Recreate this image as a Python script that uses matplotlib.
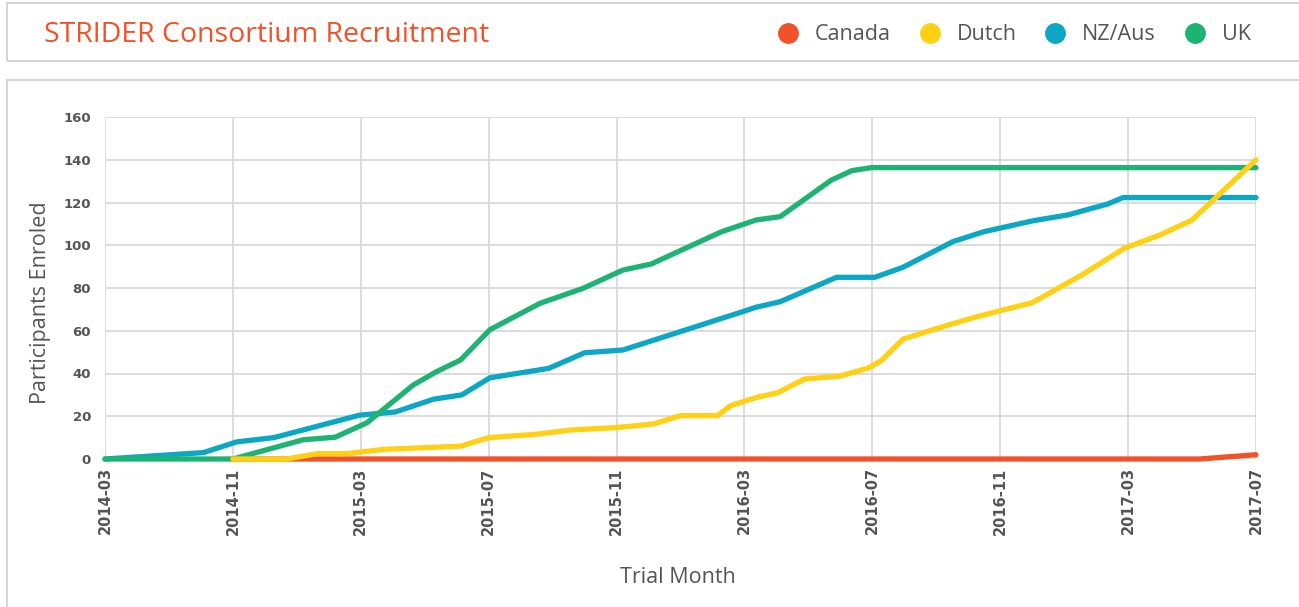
import matplotlib
matplotlib.use("Agg")
import matplotlib.pyplot as plt
from matplotlib.patches import Rectangle
from matplotlib.lines import Line2D

# tick labels along the (categorical) month axis, one per grid column
month_labels = ["2014-03", "2014-11", "2015-03", "2015-07", "2015-11",
                "2016-03", "2016-07", "2016-11", "2017-03", "2017-07"]

# positions are in units of tick spacing (0 = 2014-03 ... 9 = 2017-07)
canada_x = [1.0, 8.56, 9.0]
canada_y = [0, 0, 2]

dutch_x = [1.0, 1.42, 1.66, 1.89, 2.18, 2.78, 3.0, 3.36, 3.65, 4.0, 4.29,
           4.50, 4.79, 4.89, 5.10, 5.26, 5.47, 5.75, 5.97, 6.07, 6.24, 6.55,
           6.79, 7.0, 7.25, 7.65, 7.97, 8.25, 8.50, 9.0]
dutch_y = [0, 0, 2.5, 2.5, 4.5, 6, 10, 11.5, 13.6, 14.7, 16.4,
           20.3, 20.3, 24.9, 28.9, 31, 37.4, 38.8, 42.6, 46, 56.1, 61.9,
           66.1, 69.4, 73.1, 86.5, 98.6, 104.8, 111.8, 140]

nzaus_x = [0, 0.77, 1.03, 1.32, 1.99, 2.27, 2.57, 2.79, 3.01, 3.47, 3.75,
           4.05, 4.99, 5.09, 5.28, 5.72, 6.02, 6.24, 6.63, 6.87, 7.26, 7.53,
           7.84, 7.96, 9.0]
nzaus_y = [0, 3, 8, 10, 20.5, 22, 28, 30, 38, 42.4, 49.7,
           51, 69, 71, 73.6, 85, 85, 89.7, 101.7, 106.3, 111.5, 114.2,
           119.3, 122.3, 122.3]

uk_x = [0, 1.0, 1.55, 1.80, 2.05, 2.41, 2.59, 2.78, 3.01, 3.40, 3.74,
        4.05, 4.27, 4.82, 5.09, 5.28, 5.68, 5.84, 5.99, 9.0]
uk_y = [0, 0, 9, 10.2, 17, 34.6, 40.8, 46.3, 60.5, 72.8, 79.9,
        88.4, 91.2, 106.3, 111.8, 113.4, 130.5, 134.9, 136.3, 136.3]

series = ["Canada", "Dutch", "NZ/Aus", "UK"]
colors = ["#f15229", "#ffd013", "#0ba7c5", "#1fb373"]

fig = plt.figure(figsize=(12.99, 6.07), dpi=100)

# header and panel boxes
fig.patches.append(Rectangle((7 / 1299, 1 - 61 / 607), 1.0, 58 / 607,
                             transform=fig.transFigure, fill=False,
                             edgecolor="#d4d4d4", linewidth=1.4))
fig.patches.append(Rectangle((7 / 1299, -0.05), 1.0, 1 - 80 / 607 + 0.05,
                             transform=fig.transFigure, fill=False,
                             edgecolor="#d4d4d4", linewidth=1.4))

fig.text(44 / 1299, 1 - 35 / 607, "STRIDER Consortium Recruitment",
         color="#f15229", fontsize=20.5, family="Open Sans",
         ha="left", va="center")

handles = [Line2D([], [], marker="o", linestyle="none", markersize=14,
                  markerfacecolor=c, markeredgecolor=c) for c in colors]
fig.legend(handles, series, loc="center right",
           bbox_to_anchor=(1270 / 1299, 1 - 35 / 607), ncol=4, frameon=False,
           prop={"family": "Open Sans", "size": 15.5}, labelcolor="#555555",
           handletextpad=0.75, columnspacing=1.3, handlelength=1.0)

ax = fig.add_axes([105 / 1299, 1 - 459 / 607, 1151 / 1299, 342 / 607])

ax.plot(canada_x, canada_y, color=colors[0], lw=3.8, solid_capstyle="round",
        zorder=3, clip_on=False)
ax.plot(nzaus_x, nzaus_y, color=colors[2], lw=3.8, solid_capstyle="round",
        zorder=4, clip_on=False)
ax.plot(uk_x, uk_y, color=colors[3], lw=3.8, solid_capstyle="round",
        zorder=5, clip_on=False)
ax.plot(dutch_x, dutch_y, color=colors[1], lw=3.8, solid_capstyle="round",
        zorder=6, clip_on=False)

ax.set_xlim(0, 9)
ax.set_ylim(0, 160)
ax.set_xticks(range(len(month_labels)))
ax.set_xticklabels(month_labels, rotation=90, fontsize=10.5, fontweight="bold",
                   color="#555555")
ax.set_yticks(range(0, 161, 20))
ax.set_yticklabels([str(v) for v in range(0, 161, 20)], fontsize=9.5,
                   fontweight="bold", color="#555555")
ax.tick_params(axis="x", length=0, pad=6)
ax.tick_params(axis="y", length=0, pad=10)
ax.grid(True, color="#d9d9d9", linewidth=1.3)
ax.set_axisbelow(True)
for s in ax.spines.values():
    s.set_visible(False)

ax.set_xlabel("Trial Month", fontsize=15.5, family="Open Sans", color="#555555")
ax.set_ylabel("Participants Enroled", fontsize=15.5, family="Open Sans",
              color="#555555")
ax.xaxis.set_label_coords(0.498, -0.315)
ax.yaxis.set_label_coords(-0.047, 0.456)

fig.savefig("out.png", dpi=100)
